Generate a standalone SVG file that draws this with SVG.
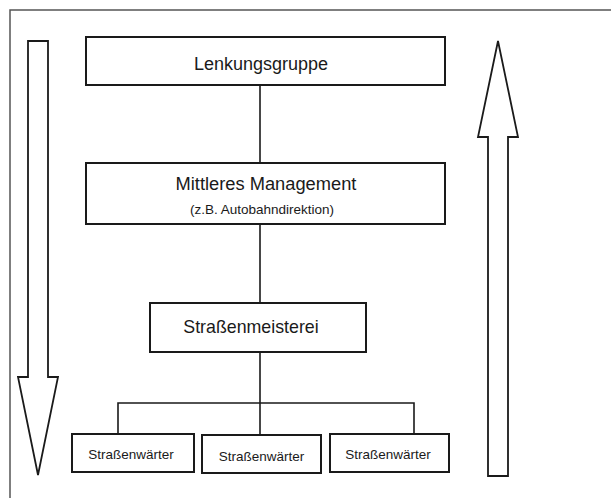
<svg xmlns="http://www.w3.org/2000/svg" width="611" height="498" viewBox="0 0 611 498">
<style>
.box{fill:#fff;stroke:#1a1a1a;stroke-width:2}
.ln{stroke:#1a1a1a;stroke-width:1.6;fill:none}
.arr{fill:#fff;stroke:#1a1a1a;stroke-width:1.8;stroke-linejoin:miter}
text{font-family:"Liberation Sans",Arial,sans-serif;fill:#1a1a1a;text-anchor:middle}
.sm{font-size:13.5px}
</style>
<rect x="0" y="0" width="611" height="498" fill="#fff"/>
<path d="M10,498 V10 H611" fill="none" stroke="#555" stroke-width="1.5"/>
<g id="arrow-down"><path class="arr" d="M28,41 H48 V377 H58 L38,475 L18,377 H28 Z"/></g>
<g id="arrow-up"><path class="arr" d="M488,476 V137 H478 L498,41 L518,137 H508 V476 Z"/></g>
<g id="connectors">
<path class="ln" d="M260,85 V163"/>
<path class="ln" d="M260,224 V303"/>
<path class="ln" d="M260,352 V434"/>
<path class="ln" d="M118,434 V403 H414 V434"/>
</g>
<g id="lenkungsgruppe"><rect class="box" x="86" y="37" width="359" height="48"/><text x="261" y="70" font-size="18">Lenkungsgruppe</text></g>
<g id="mittleres-management"><rect class="box" x="86" y="163" width="359" height="61"/><text x="266" y="190" font-size="18.3">Mittleres Management</text><text x="262" y="214" class="sm">(z.B. Autobahndirektion)</text></g>
<g id="strassenmeisterei"><rect class="box" x="150" y="303" width="216" height="49"/><text x="251" y="333" font-size="17.8">Straßenmeisterei</text></g>
<g id="waerter1"><rect class="box" x="72" y="434" width="122" height="38"/><text x="131" y="459" class="sm">Straßenwärter</text></g>
<g id="waerter2"><rect class="box" x="202" y="435" width="119" height="38"/><text x="261.5" y="461" class="sm">Straßenwärter</text></g>
<g id="waerter3"><rect class="box" x="330" y="434" width="119" height="38"/><text x="388" y="459" class="sm">Straßenwärter</text></g>
</svg>
